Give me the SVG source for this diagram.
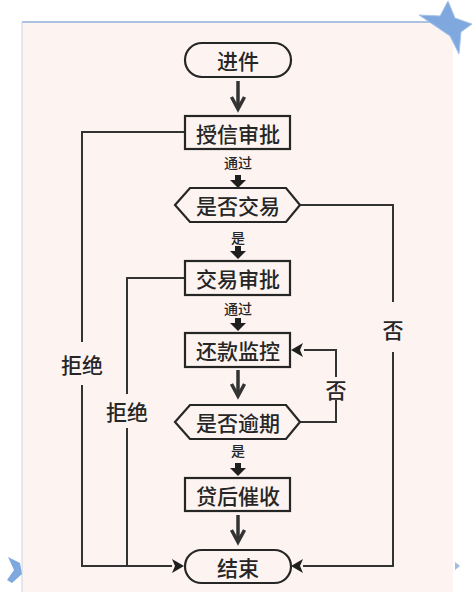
<svg xmlns="http://www.w3.org/2000/svg" width="472" height="600" viewBox="0 0 472 600">
<style>
.box{fill:#fdf4f1;stroke:#262626;stroke-width:2.2}
.t{font-family:"Noto Sans CJK SC","Noto Sans",sans-serif;font-size:21px;font-weight:500;fill:#262626;text-anchor:middle;dominant-baseline:central}
.s{font-family:"Noto Sans CJK SC","Noto Sans",sans-serif;font-size:14px;font-weight:500;fill:#262626;text-anchor:middle;dominant-baseline:central}
.ln{fill:none;stroke:#333;stroke-width:2}
.hv{fill:none;stroke:#333;stroke-width:3.5}
.fa{fill:#1f1f1f}
</style>
<defs>
<path id="dn" d="M-3,0 H3 V5 H8 L0,13 L-8,5 H-3 Z"/>
<path id="rt" d="M0,0 L-12,-7 L-9,0 L-12,7 Z"/>
</defs>
<rect width="472" height="600" fill="#ffffff"/>
<rect x="22" y="22" width="431" height="570" fill="#fdf3f1"/>
<line x1="22" y1="22" x2="440" y2="22" stroke="#8fb0d6" stroke-width="1.5"/>
<line x1="22" y1="22" x2="22" y2="592" stroke="#c9d6e6" stroke-width="1"/>
<g id="decor">
<polygon points="448,1 455,18 472,24 461,32 459,54 450,36 419,15 440,16" fill="#7fa8de" stroke="#a9c4ea" stroke-width="1"/>
<polygon points="8,557 20,563 22,574 12,583 7,580 14,570" fill="#7fa8de"/>
<polygon points="455,562 460,566 455,570" fill="#9fbce2"/>
</g>
<g id="connectors">
<line class="hv" x1="238" y1="81" x2="238" y2="109"/>
<path class="hv" d="M231.5,97 L238,109 L244.5,97"/>
<line class="hv" x1="238" y1="370" x2="238" y2="396"/>
<path class="hv" d="M231.5,384 L238,396 L244.5,384"/>
<line class="hv" x1="238" y1="515" x2="238" y2="542"/>
<path class="hv" d="M231.5,530 L238,542 L244.5,530"/>
<use href="#dn" class="fa" x="238" y="175"/>
<use href="#dn" class="fa" x="238" y="246"/>
<use href="#dn" class="fa" x="238" y="318"/>
<use href="#dn" class="fa" x="238" y="463"/>
<polyline class="ln" points="185,132 82,132 82,342"/>
<polyline class="ln" points="82,385 82,566 172,566"/>
<use href="#rt" class="fa" x="184" y="566"/>
<polyline class="ln" points="185,278 127,278 127,394"/>
<line class="ln" x1="127" y1="428" x2="127" y2="566"/>
<polyline class="ln" points="300,205 393,205 393,302"/>
<polyline class="ln" points="393,352 393,566 303,566"/>
<g transform="translate(291,566) rotate(180)"><use href="#rt" class="fa"/></g>
<polyline class="ln" points="300,422 336,422 336,400"/>
<polyline class="ln" points="336,377 336,350 304,350"/>
<g transform="translate(291,350) rotate(180)"><use href="#rt" class="fa"/></g>
<text class="t" x="82" y="364">拒绝</text>
<text class="t" x="127" y="411">拒绝</text>
<text class="t" x="393" y="329">否</text>
<text class="t" x="336" y="389">否</text>
<text class="s" x="238" y="162">通过</text>
<text class="s" x="238" y="237">是</text>
<text class="s" x="238" y="308">通过</text>
<text class="s" x="238" y="450">是</text>
</g>
<g id="start"><rect class="box" x="185" y="43" width="106" height="34" rx="17"/><text class="t" x="238" y="60">进件</text></g>
<g id="credit"><rect class="box" x="185" y="116" width="105" height="33"/><text class="t" x="238" y="133">授信审批</text></g>
<g id="isTrade"><polygon class="box" points="175,205 190,188 286,188 300,205 286,222 190,222"/><text class="t" x="238" y="205">是否交易</text></g>
<g id="tradeApprove"><rect class="box" x="185" y="261" width="105" height="34"/><text class="t" x="238" y="278">交易审批</text></g>
<g id="monitor"><rect class="box" x="185" y="333" width="105" height="34"/><text class="t" x="238" y="350">还款监控</text></g>
<g id="overdue"><polygon class="box" points="175,422 190,405 286,405 300,422 286,439 190,439"/><text class="t" x="238" y="422">是否逾期</text></g>
<g id="collect"><rect class="box" x="185" y="478" width="105" height="33"/><text class="t" x="238" y="495">贷后催收</text></g>
<g id="end"><rect class="box" x="185" y="550" width="106" height="33" rx="16.5"/><text class="t" x="238" y="567">结束</text></g>
</svg>
